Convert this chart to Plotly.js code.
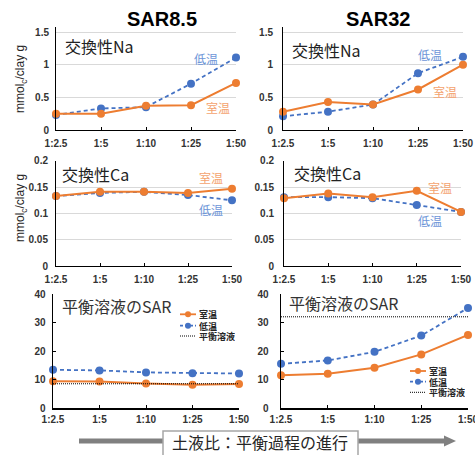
<!DOCTYPE html>
<html><head><meta charset="utf-8">
<script src="https://cdn.plot.ly/plotly-3.0.1.min.js"></script>
<style>html,body{margin:0;padding:0;background:#fff}</style>
</head><body><div id="chart" style="width:475px;height:455px"></div>
<script>
// ---- data ----
var cats = ['1:2.5', '1:5', '1:10', '1:25', '1:50'];
var naSAR85Room = [0.25, 0.25, 0.37, 0.38, 0.72];
var naSAR85Low  = [0.23, 0.33, 0.35, 0.71, 1.11];
var naSAR32Room = [0.28, 0.43, 0.39, 0.62, 1.00];
var naSAR32Low  = [0.21, 0.28, 0.39, 0.87, 1.12];
var caSAR85Room = [0.133, 0.141, 0.141, 0.139, 0.147];
var caSAR85Low  = [0.133, 0.139, 0.141, 0.135, 0.125];
var caSAR32Room = [0.129, 0.138, 0.131, 0.143, 0.103];
var caSAR32Low  = [0.131, 0.131, 0.129, 0.116, 0.103];
var solSAR85Room = [9.4, 9.3, 8.6, 8.2, 8.4];
var solSAR85Low  = [13.4, 13.2, 12.5, 12.2, 12.1];
var solSAR32Room = [11.5, 12.0, 14.1, 18.8, 25.6];
var solSAR32Low  = [15.5, 16.7, 19.7, 25.4, 35.1];
var eqSAR = [8.5, 32];
var colTitles = ['SAR8.5', 'SAR32'];
var panelLabels = ['交換性Na', '交換性Ca', '平衡溶液のSAR'];
var seriesNames = ['室温', '低温', '平衡溶液'];
var yTitle = 'mmol<sub>c</sub>/clay g';
var bottomText = '土液比：平衡過程の進行';

// ---- helpers ----
var W = 475, H = 455;
function px(x) { return x / W; }
function py(y) { return 1 - y / H; }
var ORANGE = '#ED7D31', BLUE = '#4472C4';
var ORANGE_T = '#F4A36E', BLUE_T = '#6E96D8';
var JP = 'Noto Sans CJK JP, sans-serif';
var AR = 'Liberation Sans, Arial, sans-serif';

var layout = {
  width: W, height: H, margin: {l: 0, r: 0, t: 0, b: 0},
  paper_bgcolor: '#fff', plot_bgcolor: 'rgba(0,0,0,0)',
  showlegend: false, hovermode: false,
  shapes: [], annotations: []
};

// panel geometry in px
var panels = [
  {x: [56, 236], y: [26.8, 130], range: [0, 1.58], dtick: 0.5, grid: true, std: 4},
  {x: [283, 463], y: [26.8, 130], range: [0, 1.58], dtick: 0.5, grid: true, std: 7},
  {x: [56, 232], y: [160.7, 266.3], range: [0, 0.2], dtick: 0.05, grid: true, std: 5},
  {x: [284, 461], y: [160.7, 266.3], range: [0, 0.2], dtick: 0.05, grid: true, std: 7},
  {x: [53, 239], y: [294, 408], range: [0, 40], dtick: 10, grid: false, std: 4},
  {x: [281, 468], y: [294, 408], range: [0, 40], dtick: 10, grid: false, std: 9}
];
var tickFont = {family: AR, size: 10, color: '#333', weight: 'bold'};
panels.forEach(function (p, i) {
  var n = i + 1, xs = 'xaxis' + (n === 1 ? '' : n), ys = 'yaxis' + (n === 1 ? '' : n);
  layout[xs] = {
    domain: [px(p.x[0]), px(p.x[1])], anchor: 'y' + n, type: 'category',
    range: [0, cats.length - 1], showgrid: false, zeroline: false,
    showline: true, linecolor: '#000', linewidth: p.grid ? 1 : 1.5,
    ticks: 'inside', ticklen: 3, tickcolor: '#000', tickfont: tickFont,
    ticklabelstandoff: p.grid ? 4 : 1, fixedrange: true
  };
  layout[ys] = {
    domain: [py(p.y[1]), py(p.y[0])], anchor: 'x' + n, range: p.range,
    dtick: p.dtick, showgrid: p.grid, gridcolor: '#D9D9D9', gridwidth: 1,
    zeroline: false, showline: true, linecolor: '#000', linewidth: p.grid ? 1 : 1.5,
    ticks: p.grid ? '' : 'inside', ticklen: 3, tickcolor: '#000',
    tickfont: tickFont, ticklabelstandoff: p.std, fixedrange: true
  };
});

var data = [];
function addPair(n, room, low) {
  var xa = 'x' + n, ya = 'y' + n;
  data.push({x: cats, y: low, xaxis: xa, yaxis: ya, type: 'scatter', mode: 'lines+markers',
    name: seriesNames[1], cliponaxis: false,
    line: {color: BLUE, width: 1.8, dash: '4px,3px'}, marker: {color: BLUE, size: 8}});
  data.push({x: cats, y: room, xaxis: xa, yaxis: ya, type: 'scatter', mode: 'lines+markers',
    name: seriesNames[0], cliponaxis: false,
    line: {color: ORANGE, width: 2}, marker: {color: ORANGE, size: 8}});
}
addPair(1, naSAR85Room, naSAR85Low);
addPair(2, naSAR32Room, naSAR32Low);
addPair(3, caSAR85Room, caSAR85Low);
addPair(4, caSAR32Room, caSAR32Low);
addPair(5, solSAR85Room, solSAR85Low);
addPair(6, solSAR32Room, solSAR32Low);

// equilibrium solution SAR dotted lines
[5, 6].forEach(function (n, k) {
  layout.shapes.push({type: 'line', xref: 'x' + n + ' domain', yref: 'y' + n,
    x0: 0, x1: 1, y0: eqSAR[k], y1: eqSAR[k], line: {color: '#000', width: 1, dash: '1px,1px'}});
});

function ann(text, x, y, size, color, opts) {
  var a = {text: text, xref: 'paper', yref: 'paper', x: px(x), y: py(y),
    xanchor: 'center', yanchor: 'middle', showarrow: false,
    font: {family: JP, size: size, color: color}};
  for (var k in (opts || {})) a[k] = opts[k];
  layout.annotations.push(a);
}
// column titles
ann(colTitles[0], 162, 19, 20, '#000', {font: {family: AR, size: 20, color: '#000', weight: 'bold'}});
ann(colTitles[1], 377.5, 19, 20, '#000', {font: {family: AR, size: 20, color: '#000', weight: 'bold'}});
// panel labels
ann(panelLabels[0], 99.5, 46.5, 16, '#222');
ann(panelLabels[0], 326, 50, 16, '#222');
ann(panelLabels[1], 95.5, 174, 16, '#222');
ann(panelLabels[1], 327, 173, 16, '#222');
ann(panelLabels[2], 116, 305.5, 16, '#333');
ann(panelLabels[2], 343.5, 303, 16, '#333');
// series labels
ann(seriesNames[1], 206, 59, 12, BLUE_T);
ann(seriesNames[0], 218, 107, 12, ORANGE_T);
ann(seriesNames[1], 430, 54, 12, BLUE_T);
ann(seriesNames[0], 444.7, 91.5, 12, ORANGE_T);
ann(seriesNames[0], 211.3, 177.3, 12, ORANGE_T);
ann(seriesNames[1], 210.5, 209.3, 12, BLUE_T);
ann(seriesNames[0], 440.3, 187.3, 12, ORANGE_T);
ann(seriesNames[1], 430.3, 220, 12, BLUE_T);
// y axis titles
ann(yTitle, 21, 79, 12, '#262626', {textangle: -90, font: {family: AR, size: 12, color: '#262626'}});
ann(yTitle, 21, 208, 12, '#262626', {textangle: -90, font: {family: AR, size: 12, color: '#262626'}});

// manual legends
function legend(x0, ys) {
  var lx0 = x0, lx1 = x0 + 16, mx = x0 + 8;
  var styles = [
    {color: ORANGE, dash: 'solid', width: 1.8, marker: true},
    {color: BLUE, dash: '3px,2px', width: 1.8, marker: true},
    {color: '#000', dash: '1px,1px', width: 1, marker: false}
  ];
  styles.forEach(function (s, i) {
    layout.shapes.push({type: 'line', xref: 'paper', yref: 'paper',
      x0: px(lx0), x1: px(lx1), y0: py(ys[i]), y1: py(ys[i]),
      line: {color: s.color, width: s.width, dash: s.dash}});
    if (s.marker) layout.shapes.push({type: 'circle', xref: 'paper', yref: 'paper',
      x0: px(mx - 3), x1: px(mx + 3), y0: py(ys[i] + 3), y1: py(ys[i] - 3),
      fillcolor: s.color, line: {width: 0}});
    ann(seriesNames[i], lx1 + 2, ys[i], 9, '#262626',
      {xanchor: 'left', height: 10, borderpad: 0,
       font: {family: JP, size: 9, color: '#262626', weight: 'bold'}});
  });
}
legend(180, [314.3, 325.7, 336]);
legend(410, [371, 381.7, 392.3]);

// bottom arrow and box
layout.shapes.push({type: 'line', xref: 'paper', yref: 'paper',
  x0: px(79), x1: px(446), y0: py(441), y1: py(441), line: {color: '#808080', width: 5}});
layout.shapes.push({type: 'path', xref: 'paper', yref: 'paper',
  path: 'M' + px(444) + ',' + py(435.5) + ' L' + px(456) + ',' + py(441) + ' L' + px(444) + ',' + py(446.5) + ' Z',
  fillcolor: '#808080', line: {width: 0}});
layout.shapes.push({type: 'rect', xref: 'paper', yref: 'paper',
  x0: px(163), x1: px(358), y0: py(431), y1: py(462),
  fillcolor: '#fff', line: {color: '#A6A6A6', width: 1.5}});
ann(bottomText, 260, 442, 16, '#262626');

Plotly.newPlot('chart', data, layout, {staticPlot: true, displayModeBar: false});
</script></body></html>
